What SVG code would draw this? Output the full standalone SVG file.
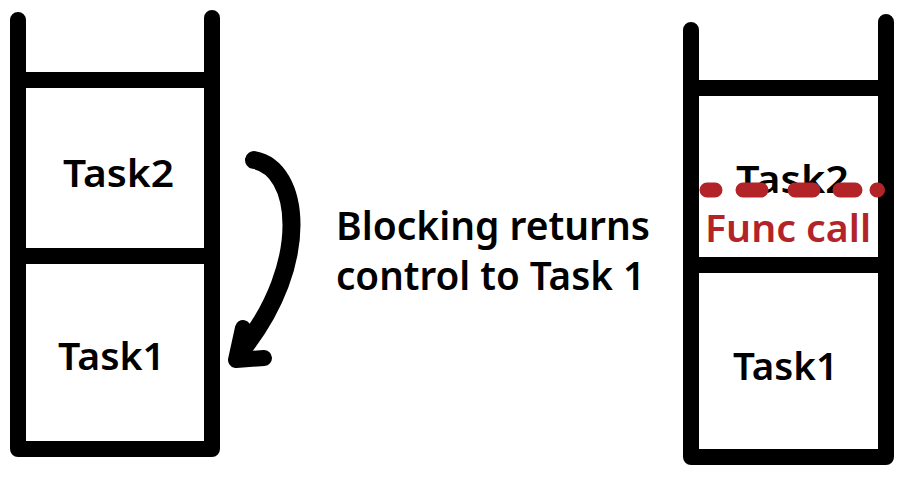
<svg xmlns="http://www.w3.org/2000/svg" width="908" height="478" viewBox="0 0 908 478">
<style>
.frame{fill:none;stroke:#000;stroke-width:16;stroke-linecap:round;stroke-linejoin:round}
.bar{stroke:#000;stroke-width:16}
.t{font-family:"Noto Sans","Open Sans",sans-serif;font-weight:600;font-size:38px;fill:#000}
.l{font-size:40px}
.red{fill:#b22428}
.dash{fill:none;stroke:#b22428;stroke-width:15;stroke-linecap:round}
</style>
<rect width="908" height="478" fill="#fff"/>
<g id="left-stack">
<path class="frame" d="M18,20 V449 H212 V18"/>
<line class="bar" x1="18" y1="80" x2="212" y2="80"/>
<line class="bar" x1="18" y1="256" x2="212" y2="256"/>
<text class="t" x="63" y="187" textLength="111" lengthAdjust="spacingAndGlyphs">Task2</text>
<text class="t" x="58" y="370" textLength="107" lengthAdjust="spacingAndGlyphs">Task1</text>
</g>
<g id="right-stack">
<path class="frame" d="M691,30 V457 H886 V22"/>
<line class="bar" x1="691" y1="88" x2="886" y2="88"/>
<line class="bar" x1="691" y1="265" x2="886" y2="265"/>
<text class="t" x="736" y="193" textLength="113" lengthAdjust="spacingAndGlyphs">Task2</text>
<text class="t" x="733" y="380" textLength="105" lengthAdjust="spacingAndGlyphs">Task1</text>
</g>
<g id="func-call">
<path class="dash" d="M707,190 H715 M743,190 H761 M795,190 H813 M840,190 H855 M877,190 H877.5"/>
<text class="t red" x="705" y="242" textLength="166" lengthAdjust="spacingAndGlyphs">Func call</text>
</g>
<g id="connectors">
<path d="M254,160 C300,168 312,262 242,350" fill="none" stroke="#000" stroke-width="18" stroke-linecap="round"/>
<path d="M243,328 L236,360 L264,358" fill="none" stroke="#000" stroke-width="16" stroke-linecap="round" stroke-linejoin="round"/>
</g>
<g id="label">
<text class="t l" x="336" y="240" textLength="314" lengthAdjust="spacingAndGlyphs">Blocking returns</text>
<text class="t l" x="336" y="290" textLength="309" lengthAdjust="spacingAndGlyphs">control to Task 1</text>
</g>
</svg>
